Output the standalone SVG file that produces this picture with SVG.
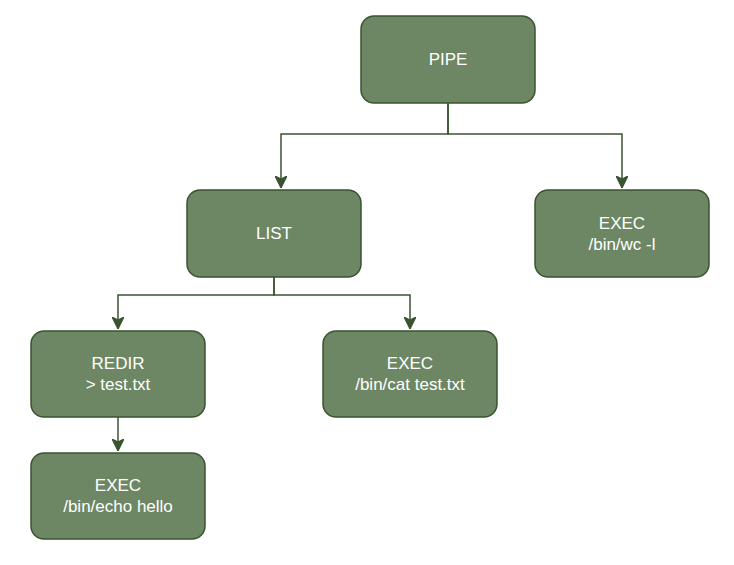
<svg xmlns="http://www.w3.org/2000/svg" width="734" height="565" viewBox="0 0 734 565">
<defs>
<style>
.n rect{fill:#6d8764;stroke:#3a5431;stroke-width:1.5}
.n text{fill:#ffffff;font-family:"Liberation Sans",Arial,sans-serif;font-size:17px;text-anchor:middle;dominant-baseline:central}
.c path{fill:none;stroke:#3a5431;stroke-width:1.5}
</style>
<marker id="ah" markerWidth="12" markerHeight="12" refX="10" refY="5" orient="auto" markerUnits="userSpaceOnUse" viewBox="0 0 10 10">
<path d="M0,0 L10,5 L0,10 L2.5,5 Z" fill="#3a5431" stroke="#3a5431"/>
</marker>
</defs>
<rect width="734" height="565" fill="#ffffff"/>
<g id="connectors" class="c">
<path d="M448,103 V134 H281 V188" marker-end="url(#ah)"/>
<path d="M448,103 V134 H622 V188" marker-end="url(#ah)"/>
<path d="M274,277 V295 H118 V329" marker-end="url(#ah)"/>
<path d="M274,277 V295 H410 V329" marker-end="url(#ah)"/>
<path d="M118,417 V451" marker-end="url(#ah)"/>
</g>
<g id="pipe" class="n"><rect x="361" y="16" width="174" height="87" rx="13"/><text x="448" y="59.5">PIPE</text></g>
<g id="list" class="n"><rect x="187" y="190" width="174" height="87" rx="13"/><text x="274" y="233.5">LIST</text></g>
<g id="exec-wc" class="n"><rect x="535" y="190" width="174" height="87" rx="13"/><text x="622" y="223">EXEC</text><text x="622" y="244">/bin/wc -l</text></g>
<g id="redir" class="n"><rect x="31" y="331" width="174" height="86" rx="13"/><text x="118" y="363">REDIR</text><text x="118" y="384">&gt; test.txt</text></g>
<g id="exec-cat" class="n"><rect x="323" y="331" width="174" height="86" rx="13"/><text x="410" y="363">EXEC</text><text x="410" y="384">/bin/cat test.txt</text></g>
<g id="exec-echo" class="n"><rect x="31" y="453" width="174" height="86" rx="13"/><text x="118" y="485">EXEC</text><text x="118" y="506">/bin/echo hello</text></g>
</svg>
